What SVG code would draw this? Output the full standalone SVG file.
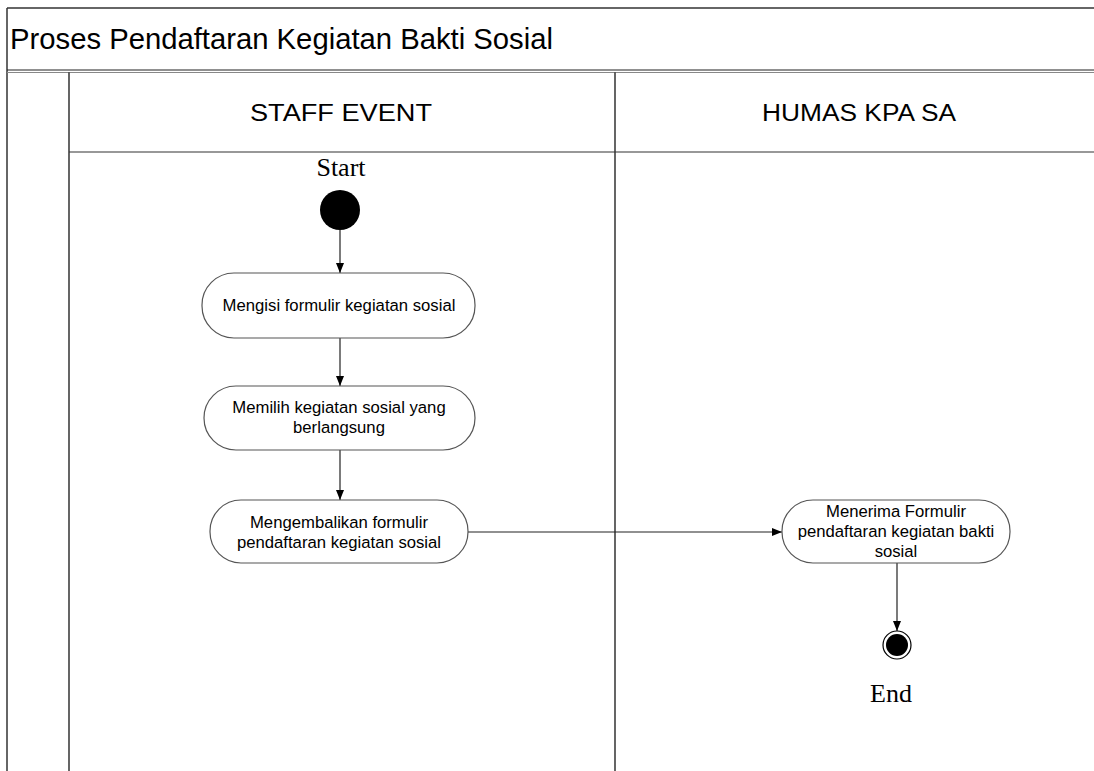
<svg xmlns="http://www.w3.org/2000/svg" width="1094" height="771" viewBox="0 0 1094 771">
<style>
.frame{stroke:#333;stroke-width:1.5;fill:none}
.act{fill:#fff;stroke:#555;stroke-width:1.2}
.t{font-family:"Liberation Sans",Arial,sans-serif;font-size:16.7px;fill:#000;text-anchor:middle}
.h{font-family:"Liberation Sans",Arial,sans-serif;font-size:23px;fill:#000;text-anchor:middle}
.s{font-family:"Liberation Serif","Times New Roman",serif;font-size:26px;fill:#000;text-anchor:middle}
.c{stroke:#222;stroke-width:1.2;fill:none;marker-end:url(#arr)}
</style>
<defs>
<marker id="arr" viewBox="0 0 10 10" refX="10" refY="5" markerWidth="10" markerHeight="10" markerUnits="userSpaceOnUse" orient="auto">
<path d="M0,1 L10,5 L0,9 Z" fill="#000"/>
</marker>
</defs>
<rect width="1094" height="771" fill="#fff"/>
<g id="frame">
<line class="frame" x1="7" y1="8" x2="1094" y2="8" stroke="#777"/>
<line class="frame" x1="7" y1="8" x2="7" y2="771"/>
<line x1="7" y1="70" x2="1094" y2="70" stroke="#222" stroke-width="1.2"/>
<line x1="7" y1="72.5" x2="1094" y2="72.5" stroke="#888" stroke-width="1"/>
<line x1="69" y1="72" x2="69" y2="771" stroke="#555" stroke-width="1.8"/>
<line x1="615" y1="72" x2="615" y2="771" stroke="#555" stroke-width="1.8"/>
<line x1="69" y1="152" x2="1094" y2="152" stroke="#333" stroke-width="1.2"/>
<text x="10" y="49" font-family="Liberation Sans, Arial, sans-serif" font-size="29" fill="#000" textLength="543" lengthAdjust="spacingAndGlyphs">Proses Pendaftaran Kegiatan Bakti Sosial</text>
</g>
<g id="lane-staff"><text class="h" x="341" y="121" textLength="182" lengthAdjust="spacingAndGlyphs">STAFF EVENT</text></g>
<g id="lane-humas"><text class="h" x="859" y="121" textLength="194" lengthAdjust="spacingAndGlyphs">HUMAS KPA SA</text></g>
<g id="connectors">
<line class="c" x1="340" y1="230" x2="340" y2="273"/>
<line class="c" x1="340" y1="338" x2="340" y2="386"/>
<line class="c" x1="340" y1="450" x2="340" y2="500"/>
<line class="c" x1="468" y1="532" x2="782" y2="532"/>
<line class="c" x1="897" y1="563" x2="897" y2="631"/>
</g>
<g id="start">
<text class="s" x="341" y="176">Start</text>
<circle cx="340" cy="210" r="20" fill="#000"/>
</g>
<g id="n1">
<rect class="act" x="202" y="273" width="273" height="65" rx="32" ry="32"/>
<text class="t" x="339" y="311">Mengisi formulir kegiatan sosial</text>
</g>
<g id="n2">
<rect class="act" x="204" y="386" width="271" height="64" rx="32" ry="32"/>
<text class="t" x="339" y="413">Memilih kegiatan sosial yang</text>
<text class="t" x="339" y="433">berlangsung</text>
</g>
<g id="n3">
<rect class="act" x="210" y="500" width="258" height="63" rx="31" ry="31"/>
<text class="t" x="339" y="528">Mengembalikan formulir</text>
<text class="t" x="339" y="548">pendaftaran kegiatan sosial</text>
</g>
<g id="n4">
<rect class="act" x="782" y="500" width="228" height="63" rx="31" ry="31"/>
<text class="t" x="896" y="517">Menerima Formulir</text>
<text class="t" x="896" y="537">pendaftaran kegiatan bakti</text>
<text class="t" x="896" y="557">sosial</text>
</g>
<g id="end">
<circle cx="897" cy="645" r="14" fill="#fff" stroke="#000" stroke-width="1.2"/>
<circle cx="897" cy="645" r="11" fill="#000"/>
<text class="s" x="891" y="702">End</text>
</g>
</svg>
